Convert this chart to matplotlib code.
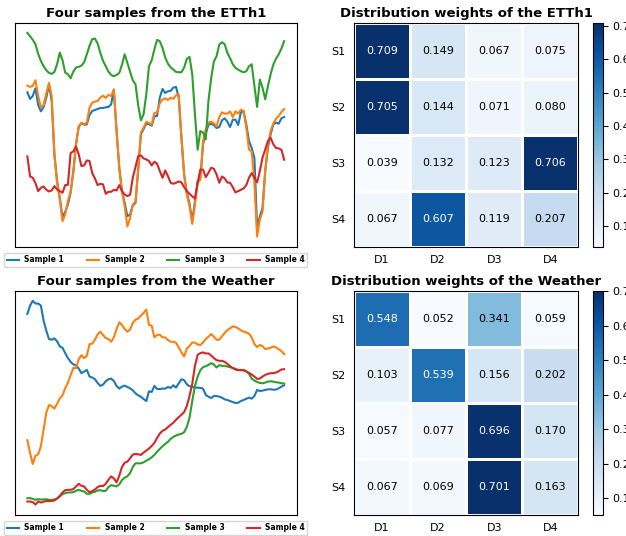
import numpy as np
import matplotlib
matplotlib.use("Agg")
import matplotlib.pyplot as plt

# four 96-step samples from ETTh1 (arbitrary units)
etth_s1 = [466, 446, 455, 478, 428, 409, 422, 450, 489, 440, 280, 200, 150, 92, 108, 130, 165, 230, 310, 362,
           374, 369, 370, 398, 410, 413, 416, 419, 419, 421, 422, 430, 474, 350, 240, 170, 135, 95, 100, 128,
           134, 234, 340, 356, 372, 370, 366, 394, 395, 450, 476, 464, 469, 470, 480, 482, 450, 330, 220, 165,
           132, 80, 140, 199, 210, 310, 344, 368, 372, 368, 359, 362, 382, 388, 378, 362, 384, 384, 368, 406,
           410, 370, 320, 299, 270, 60, 94, 120, 230, 300, 340, 370, 375, 372, 388, 392]
etth_s2 = [486, 482, 485, 502, 455, 420, 428, 462, 494, 455, 280, 195, 145, 80, 100, 140, 169, 225, 310, 365,
           373, 371, 375, 420, 435, 438, 440, 450, 456, 449, 458, 455, 474, 350, 240, 170, 125, 64, 89, 130,
           138, 234, 345, 360, 378, 374, 369, 404, 406, 434, 444, 448, 443, 450, 446, 457, 460, 330, 220, 160,
           125, 72, 130, 195, 204, 320, 355, 376, 378, 373, 364, 392, 406, 402, 402, 409, 392, 409, 402, 414,
           410, 360, 294, 289, 195, 34, 84, 108, 230, 310, 350, 372, 387, 395, 407, 416]
etth_s3 = [644, 634, 623, 610, 581, 560, 544, 532, 524, 521, 527, 550, 585, 562, 525, 520, 508, 528, 540, 542,
           546, 556, 580, 605, 625, 627, 612, 584, 560, 544, 528, 518, 514, 518, 524, 548, 580, 554, 528, 502,
           490, 428, 382, 400, 460, 544, 562, 595, 623, 619, 599, 570, 552, 541, 534, 527, 526, 526, 540, 566,
           572, 520, 400, 294, 350, 345, 325, 440, 508, 558, 574, 609, 616, 610, 584, 568, 550, 539, 534, 529,
           526, 529, 544, 550, 485, 422, 504, 480, 445, 484, 520, 549, 567, 580, 597, 619]
etth_s4 = [274, 214, 210, 194, 170, 180, 184, 174, 169, 172, 185, 175, 170, 165, 188, 189, 284, 289, 304, 280,
           245, 247, 262, 260, 224, 208, 188, 192, 190, 162, 168, 168, 174, 172, 188, 170, 160, 155, 159, 210,
           242, 275, 277, 268, 265, 260, 247, 258, 252, 230, 210, 232, 215, 195, 192, 195, 199, 196, 182, 170,
           162, 154, 148, 195, 235, 234, 212, 225, 240, 237, 220, 195, 214, 208, 196, 195, 182, 166, 170, 174,
           178, 188, 210, 224, 210, 196, 230, 270, 295, 320, 330, 310, 299, 298, 294, 264]

# four 96-step samples from Weather
weather_s1 = [599, 624, 638, 630, 630, 624, 579, 549, 524, 522, 526, 517, 502, 498, 482, 467, 456, 448, 446, 436,
              422, 427, 432, 412, 409, 404, 393, 384, 388, 398, 404, 406, 399, 384, 376, 382, 385, 381, 377, 371,
              362, 356, 352, 345, 339, 368, 366, 384, 375, 375, 376, 376, 381, 378, 386, 379, 392, 404, 401, 389,
              383, 382, 379, 379, 378, 376, 357, 352, 348, 354, 354, 352, 349, 344, 342, 339, 336, 333, 334, 339,
              342, 346, 349, 346, 354, 372, 369, 370, 372, 374, 374, 373, 373, 377, 382, 386]
weather_s2 = [222, 184, 151, 176, 180, 204, 254, 304, 327, 324, 316, 331, 347, 356, 377, 394, 416, 438, 437, 464,
              476, 467, 474, 509, 510, 522, 538, 546, 536, 527, 524, 516, 529, 554, 574, 566, 554, 546, 552, 572,
              582, 585, 594, 602, 612, 566, 564, 529, 536, 537, 529, 529, 521, 516, 516, 513, 499, 484, 472, 496,
              503, 514, 513, 508, 506, 514, 524, 531, 539, 531, 522, 522, 532, 542, 551, 556, 562, 560, 556, 550,
              546, 544, 540, 529, 509, 500, 506, 503, 494, 496, 498, 502, 499, 494, 488, 479]
weather_s3 = [49, 49, 47, 44, 46, 45, 45, 46, 44, 44, 45, 48, 54, 61, 64, 66, 66, 67, 71, 74,
              71, 69, 62, 62, 66, 68, 72, 73, 70, 71, 82, 88, 86, 84, 90, 103, 110, 114, 124, 142,
              153, 153, 153, 156, 161, 165, 171, 178, 188, 196, 204, 211, 217, 226, 232, 236, 239, 241, 246, 262,
              289, 339, 384, 412, 431, 440, 443, 447, 452, 448, 439, 446, 444, 444, 442, 440, 438, 435, 432, 432,
              430, 428, 420, 406, 400, 396, 393, 392, 394, 397, 398, 397, 395, 394, 392, 391]
weather_s4 = [39, 39, 37, 30, 39, 36, 38, 41, 40, 41, 42, 48, 56, 66, 73, 74, 74, 76, 84, 92,
              86, 84, 74, 67, 70, 75, 82, 86, 85, 92, 104, 114, 108, 96, 116, 142, 155, 158, 168, 179,
              181, 180, 178, 185, 191, 197, 205, 214, 229, 242, 250, 254, 261, 268, 274, 283, 291, 298, 306, 324,
              354, 390, 444, 477, 482, 484, 481, 481, 475, 467, 461, 459, 459, 456, 450, 443, 437, 433, 431, 431,
              432, 427, 423, 418, 412, 405, 406, 412, 417, 420, 422, 422, 424, 428, 433, 434]

sample_labels = ["Sample 1", "Sample 2", "Sample 3", "Sample 4"]
row_labels = ["S1", "S2", "S3", "S4"]
col_labels = ["D1", "D2", "D3", "D4"]

etth_weights = [[0.709, 0.149, 0.067, 0.075],
                [0.705, 0.144, 0.071, 0.080],
                [0.039, 0.132, 0.123, 0.706],
                [0.067, 0.607, 0.119, 0.207]]
weather_weights = [[0.548, 0.052, 0.341, 0.059],
                   [0.103, 0.539, 0.156, 0.202],
                   [0.057, 0.077, 0.696, 0.170],
                   [0.067, 0.069, 0.701, 0.163]]


def line_panel(ax, series, title):
    for s, lab in zip(series, sample_labels):
        ax.plot(np.arange(len(s)), s, lw=1.5, label=lab)
    ax.set_xticks([])
    ax.set_yticks([])
    ax.set_title(title, fontsize=9.5, fontweight="bold", pad=4)
    ax.legend(loc="upper center", bbox_to_anchor=(0.5, -0.01), ncol=4,
              prop={"size": 5.5, "weight": "bold"}, handlelength=1.6,
              handletextpad=0.7, columnspacing=3.0, borderpad=0.35, frameon=True)


def heat_panel(ax, cax, w, title):
    w = np.array(w)
    mesh = ax.pcolormesh(w, cmap="Blues", edgecolors="white", linewidth=0.8)
    ax.set_xlim(0, 4)
    ax.set_ylim(4, 0)
    mid = (w.min() + w.max()) / 2
    for i in range(4):
        for j in range(4):
            ax.text(j + 0.5, i + 0.5, "%.3f" % w[i, j], ha="center", va="center",
                    fontsize=8, color="white" if w[i, j] > mid else "black")
    ax.set_xticks(np.arange(4) + 0.5)
    ax.set_xticklabels(col_labels)
    ax.set_yticks(np.arange(4) + 0.5)
    ax.set_yticklabels(row_labels)
    ax.tick_params(length=0, labelsize=8, pad=6)
    ax.set_title(title, fontsize=9.5, fontweight="bold", pad=4)
    cb = plt.colorbar(mesh, cax=cax)
    cb.ax.tick_params(labelsize=8)


fig = plt.figure(figsize=(6.26, 5.36), dpi=100)
ax1 = fig.add_axes([0.0232, 0.5397, 0.4512, 0.418])
ax2 = fig.add_axes([0.5655, 0.5397, 0.3586, 0.418])
cax1 = fig.add_axes([0.9473, 0.5397, 0.016, 0.418])
ax3 = fig.add_axes([0.0232, 0.0397, 0.4512, 0.418])
ax4 = fig.add_axes([0.5655, 0.0397, 0.3586, 0.418])
cax2 = fig.add_axes([0.9473, 0.0397, 0.016, 0.418])

line_panel(ax1, [etth_s1, etth_s2, etth_s3, etth_s4], "Four samples from the ETTh1")
heat_panel(ax2, cax1, etth_weights, "Distribution weights of the ETTh1")
line_panel(ax3, [weather_s1, weather_s2, weather_s3, weather_s4], "Four samples from the Weather")
heat_panel(ax4, cax2, weather_weights, "Distribution weights of the Weather")

plt.savefig("out.png", dpi=100)
